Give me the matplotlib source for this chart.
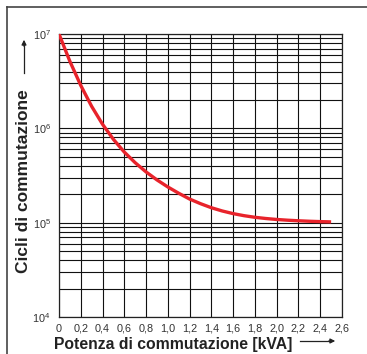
import matplotlib
matplotlib.use('Agg')
from matplotlib import pyplot as plt
from matplotlib.lines import Line2D
from matplotlib.ticker import LogLocator, NullFormatter

plt.rcParams['font.family'] = ['Liberation Sans', 'DejaVu Sans']
plt.rcParams['mathtext.fontset'] = 'custom'
plt.rcParams['mathtext.rm'] = 'Liberation Sans'

# Data
power = [0.0, 0.1, 0.2, 0.3, 0.4, 0.5, 0.6, 0.7, 0.8, 0.9, 1.0, 1.1, 1.2,
         1.3, 1.4, 1.5, 1.6, 1.7, 1.8, 1.9, 2.0, 2.1, 2.2, 2.3, 2.4, 2.5]
cycles = [1.0e7, 5.13e6, 2.85e6, 1.71e6, 1.104e6, 7.64e5, 5.6e5, 4.32e5,
          3.45e5, 2.84e5, 2.39e5, 2.05e5, 1.78e5, 1.59e5, 1.44e5, 1.33e5,
          1.247e5, 1.186e5, 1.14e5, 1.107e5, 1.081e5, 1.062e5, 1.047e5,
          1.035e5, 1.026e5, 1.019e5]

x_ticks = [0, 0.2, 0.4, 0.6, 0.8, 1.0, 1.2, 1.4, 1.6, 1.8, 2.0, 2.2, 2.4, 2.6]
x_labels = ['0', '0,2', '0,4', '0,6', '0,8', '1,0', '1,2', '1,4', '1,6',
            '1,8', '2,0', '2,2', '2,4', '2,6']
y_ticks = [1e4, 1e5, 1e6, 1e7]
y_labels = [r'$\mathregular{10^{4}}$', r'$\mathregular{10^{5}}$',
            r'$\mathregular{10^{6}}$', r'$\mathregular{10^{7}}$']

fig = plt.figure(figsize=(3.67, 3.54), dpi=100)
ax = fig.add_axes([59 / 367, 37 / 354, 283 / 367, 283 / 354])

ax.plot(power, cycles, color='#e8232b', lw=2.4, solid_capstyle='butt',
        solid_joinstyle='round', zorder=3)

ax.set_yscale('log')
ax.set_xlim(0, 2.6)
ax.set_ylim(1e4, 1e7)
ax.set_xticks(x_ticks)
ax.set_xticklabels(x_labels)
ax.set_yticks(y_ticks)
ax.set_yticklabels(y_labels)
ax.yaxis.set_minor_locator(LogLocator(base=10, subs=range(2, 10)))
ax.yaxis.set_minor_formatter(NullFormatter())

ax.grid(True, which='both', axis='y', color='#111111', lw=0.8)
ax.grid(True, which='major', axis='x', color='#111111', lw=0.8)
ax.tick_params(which='both', length=0, labelsize=7.8, labelcolor='#333333')
ax.tick_params(axis='x', pad=5)
ax.tick_params(axis='y', pad=6)
for s in ax.spines.values():
    s.set_color('#222222')
    s.set_linewidth(0.9)

# axis titles with arrows
fig.text(173 / 367, 1 - 345 / 354, 'Potenza di commutazione [kVA]',
         ha='center', va='center', fontsize=11.3, fontweight='bold', color='#222222')
fig.add_artist(Line2D([300 / 367, 330 / 367], [1 - 341 / 354, 1 - 341 / 354],
                      color='#222222', lw=0.9))
ax.annotate('', xy=(338 / 367, 1 - 341 / 354), xycoords='figure fraction',
            xytext=(326 / 367, 1 - 341 / 354),
            arrowprops=dict(arrowstyle='-|>', color='#222222', lw=0.9,
                            mutation_scale=7))
fig.text(24 / 367, 1 - 181 / 354, 'Cicli di commutazione', rotation=90,
         ha='center', va='center', fontsize=12.5, fontweight='bold', color='#222222')
fig.add_artist(Line2D([24 / 367, 24 / 367], [1 - 73 / 354, 1 - 45 / 354],
                      color='#222222', lw=0.9))
ax.annotate('', xy=(24 / 367, 1 - 37 / 354), xycoords='figure fraction',
            xytext=(24 / 367, 1 - 49 / 354),
            arrowprops=dict(arrowstyle='-|>', color='#222222', lw=0.9,
                            mutation_scale=7))

# outer frame (left and top edges visible)
fig.add_artist(Line2D([7 / 367, 7 / 367], [0, 1 - 6.5 / 354], color='#444444', lw=1.2))
fig.add_artist(Line2D([7 / 367, 1], [1 - 6.5 / 354, 1 - 6.5 / 354], color='#444444', lw=1.2))

fig.savefig('out.png', dpi=100)
